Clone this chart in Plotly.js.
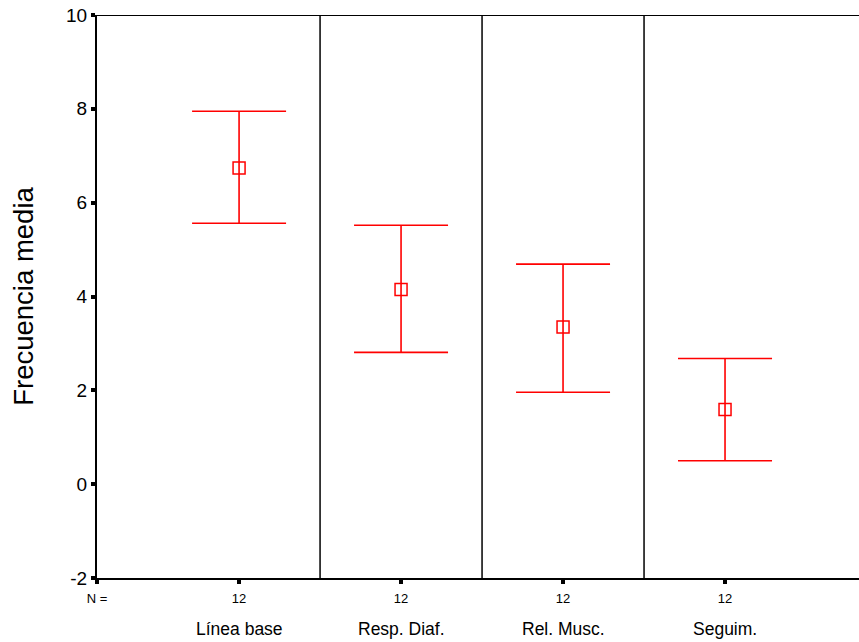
<!DOCTYPE html>
<html>
<head>
<meta charset="utf-8">
<script src="https://cdn.plot.ly/plotly-3.0.1.min.js"></script>
<style>html,body{margin:0;padding:0;background:#fff;}#chart{width:859px;height:642px;}</style>
</head>
<body>
<div id="chart"></div>
<script>
const categories = ["Línea base", "Resp. Diaf.", "Rel. Musc.", "Seguim."];
const nValues = [12, 12, 12, 12];
const means = [6.74, 4.15, 3.35, 1.59];
const upper = [7.95, 5.52, 4.69, 2.68];
const lower = [5.56, 2.81, 1.96, 0.50];
const yTickVals = [-2, 0, 2, 4, 6, 8, 10];
const yTickText = ["-2", "0", "2", "4", "6", "8", "10"];

const xs = categories.map((c, i) => i);
const xLeft = -0.877, xRight = 3.827;

const trace = {
  x: xs,
  y: means,
  type: 'scatter',
  mode: 'markers',
  marker: {symbol: 'square-open', size: 12, color: '#ff0000', line: {width: 1.5, color: '#ff0000'}},
  error_y: {
    type: 'data', symmetric: false,
    array: upper.map((u, i) => u - means[i]),
    arrayminus: lower.map((l, i) => means[i] - l),
    color: '#ff0000', thickness: 1.6, width: 47
  },
  hoverinfo: 'skip',
  showlegend: false
};

const shapes = [];
for (let i = 0; i < categories.length - 1; i++) {
  shapes.push({type: 'line', xref: 'x', yref: 'y', x0: i + 0.5, x1: i + 0.5, y0: -2, y1: 10,
    line: {color: '#000', width: 1.5}});
}
shapes.push({type: 'line', xref: 'x', yref: 'y', x0: xLeft, x1: xRight, y0: 10, y1: 10,
  line: {color: '#000', width: 2}});

const annotations = categories.map((c, i) => ({
  x: i, y: 0, xref: 'x', yref: 'paper', yshift: -51, text: c, showarrow: false,
  font: {family: 'Liberation Sans, Arial, sans-serif', size: 17.5, color: '#000'},
  xanchor: 'center', yanchor: 'middle'
}));

const layout = {
  width: 859, height: 642,
  margin: {l: 97, r: 0, t: 15, b: 64},
  paper_bgcolor: '#fff', plot_bgcolor: '#fff',
  font: {family: 'Liberation Sans, Arial, sans-serif', color: '#000'},
  xaxis: {
    range: [xLeft, xRight], showgrid: false, zeroline: false,
    showline: true, linecolor: '#000', linewidth: 2,
    ticks: 'outside', ticklen: 4, tickwidth: 4, tickcolor: '#000',
    tickvals: [xLeft].concat(xs),
    ticktext: ['N ='].concat(nValues.map(String)),
    tickfont: {size: 13, color: '#000'},
    ticklabelstandoff: 3
  },
  yaxis: {
    range: [-2, 10], showgrid: false, zeroline: false,
    showline: true, linecolor: '#000', linewidth: 2,
    ticks: 'outside', ticklen: 4, tickwidth: 4, tickcolor: '#000',
    tickvals: yTickVals, ticktext: yTickText,
    tickfont: {size: 19, color: '#000'},
    title: {text: 'Frecuencia media', font: {size: 27.5, color: '#000'}, standoff: 24}
  },
  shapes: shapes,
  annotations: annotations
};

Plotly.newPlot('chart', [trace], layout, {displayModeBar: false, staticPlot: true});
</script>
</body>
</html>
